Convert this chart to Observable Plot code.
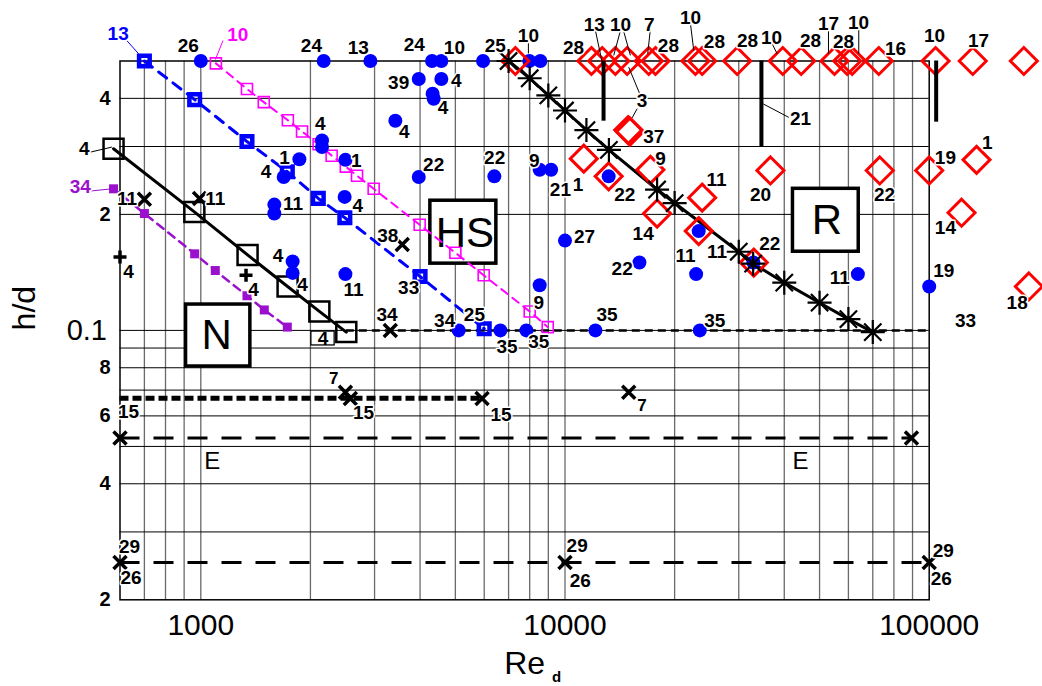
<!DOCTYPE html>
<html><head><meta charset="utf-8">
<script src="https://cdn.jsdelivr.net/npm/d3@7"></script>
<script src="https://cdn.jsdelivr.net/npm/@observablehq/plot@0.6"></script>
<style>body{margin:0;background:#fff;}</style>
</head><body><div id="chart"></div>
<script>
// ---------- data (Re_d, h/d) ----------
const nSquares = [[576,29.6],[960,20.3],[1344,15.7],[1731,13.0],[2116,11.2],[2509,9.9]];
const blueSquares = [[700,50],[962,39.7],[1339,30.9],[1728,25.8],[2102,22.0],[2486,19.6],[4000,13.8],[6000,10.1]];
const magentaSquares = [[1100,49.3],[1339,42.3],[1489,39.1],[1734,35.1],[1897,32.8],[2106,30.4],[2287,28.4],[2501,26.6],[2685,25.2],[2983,23.3],[3990,18.8],[5000,15.9],[5980,13.9],[8000,11.2],[8966,10.2]];
const purpleSquares = [[576,23.3],[700,20.1],[962,15.8],[1096,14.3],[1339,12.3],[1494,11.3],[1728,10.2]];
const stars = [[7000,50],[8000,45.1],[9000,40.7],[10000,37.2],[11450,33.1],[13200,29.4],[17900,23.2],[20000,21.4],[30000,16.0],[32860,14.9],[40000,13.3],[50000,11.8],[60000,10.7],[70000,9.9]];
const blueDots = [
  [1000,50],[2175,50],[2922,50],[4315,50],[4576,50],[5957,50],[7985,50],[8557,50],
  [3967,44.9],[4576,44.9],[4330,41.1],[4360,39.9],[3421,35.0],[2152,31.1],[2152,29.9],
  [1865,27.8],[1689,25.0],[2495,27.7],[2483,22.2],[1592,21.2],[1592,20.1],[1787,15.1],[1787,14.1],
  [2495,14.0],[3967,25.0],[6397,25.1],[8520,26.1],[9160,26.1],[10000,17.1],[16010,15.0],
  [22910,14.0],[23290,18.1],[13180,25.1],[32900,15.0],[63700,14.0],[100000,13.0],[8520,13.1],
  [5106,10],[6646,10],[7834,10],[12120,10],[23450,10]
];
const redDiamonds = [
  [7307,50],[11820,50],[12650,50],[13750,50],[14810,50],[16980,50],[17720,50],[22810,50],[23800,50],
  [29690,50],[39620,50],[44510,50],[54950,50],[59540,50],[61440,50],[72700,50],[104100,50],[131700,50],[181900,50],
  [14910,33.1],[15080,32.8],[11260,27.9],[13180,25.1],[17160,26.1],[17900,20.1],[23800,22.1],[23290,18.1],
  [32990,15.0],[36650,26.0],[73160,26.0],[100000,26.0],[134900,27.7],[122700,20.2],[187800,13.0]
];
const crosses = [[700,21.9],[992,22],[3574,16.7],[3314,10],[2495,6.91],[2574,6.66],[5919,6.66],[14960,6.91],[600,5.26],[89400,5.26],[600,2.5],[10000,2.5],[100000,2.5]];
const pluses = [[600,15.5],[1331,13.9]];
const bars = [[12760,50,34.9],[34620,50,30],[104500,50,34.7]];

// reference lines [from Re, to Re, h/d]
const refShortDash = [[2509,100000,10]];
const refDotted = [[600,5919,6.67]];
const refLongDash = [[600,89400,5.26],[600,100000,2.5]];

// region boxes [Re1, Re2, hd1, hd2], texts
const regionBoxes = [[911,1368,8.06,11.67],[4269,6479,14.9,21.7],[42260,64050,16.0,23.3]];
const regionText = [[1106,9.67,"N"],[5310,17.8,"HS"],[52400,19.3,"R"]];
const smallBox = [[2012,2331,9.14,9.93]];
const eText = [[1075,4.57,"E"],[44290,4.57,"E"]];

// labels [Re, hd, text]
const labels = [
  [924,54.8,"26"],[2012,54.8,"24"],[2707,54.2,"13"],[3858,55.0,"24"],[4969,54.2,"10"],[6438,54.8,"25"],
  [7934,58.2,"10"],[10550,54.2,"28"],[12040,62.0,"13"],[14200,62.2,"10"],[17050,62.2,"7"],[19230,54.8,"28"],
  [22110,64.8,"10"],[25720,56.2,"28"],[31700,56.5,"28"],[36890,57.5,"10"],[47210,56.5,"28"],[52900,62.5,"17"],
  [58160,56.2,"28"],[63940,62.9,"10"],[80810,53.9,"16"],[103400,58.2,"10"],[136600,56.5,"17"],
  [479,29.6,"4"],[2129,34.4,"4"],[1699,28.1,"1"],[1510,25.7,"4"],[2673,27.6,"1"],[2696,21.1,"4"],
  [1793,21.3,"11"],[1629,15.6,"4"],[1904,13.1,"4"],[2628,12.7,"11"],[633,14.2,"4"],[1396,12.7,"4"],
  [627,21.9,"11"],[1096,21.95,"11"],[3622,32.8,"4"],[3493,43.8,"39"],[5032,44.5,"4"],[4627,37.8,"4"],
  [4358,26.8,"22"],[6410,28.1,"22"],[8241,27.6,"9"],[9714,23.1,"21"],[3261,17.6,"38"],[3722,12.9,"33"],
  [3246,11.0,"34"],[4673,10.6,"34"],[5639,11.0,"25"],[6934,9.04,"35"],[8468,9.32,"35"],[8468,11.8,"9"],
  [13050,11.0,"35"],[25770,10.6,"35"],[11310,17.5,"27"],[14350,14.4,"22"],[21420,15.6,"11"],[26160,16.0,"11"],
  [16390,17.8,"14"],[14590,22.4,"22"],[10860,23.8,"1"],[17520,31.7,"37"],[16280,39.5,"3"],[18280,27.9,"9"],
  [26050,24.5,"11"],[36490,16.8,"22"],[34410,22.4,"20"],[44310,35.3,"21"],[75400,22.4,"22"],[56800,13.7,"11"],
  [110800,28.1,"19"],[144300,30.6,"1"],[110800,18.5,"14"],[109700,14.3,"19"],[174400,11.8,"18"],[125800,10.6,"33"],
  [2799,6.10,"15"],[6675,6.05,"15"],[633,6.13,"15"],
  [637,2.75,"29"],[643,2.28,"26"],[10800,2.76,"29"],[11020,2.24,"26"],[109300,2.68,"29"],[107900,2.26,"26"]
];
const smallLabels = [[2316,7.52,"7"],[16280,6.38,"7"]];
const boxedLabel = [[2165,9.51,"4"]];
const blueLabel = [[593,58.9,"13"]];
const magentaLabel = [[1264,58.6,"10"]];
const purpleLabel = [[467,23.5,"34"]];

// leader lines [Re1, hd1, Re2, hd2]
const leadersBlack = [
  [497,29.0,570,29.9],[12120,60.0,12650,49.6],[14200,60.0,13610,51.7],[14470,60.0,15120,51.7],
  [17160,60.6,16870,52.2],[22110,62.4,22570,53.2],[37060,55.4,38240,52.2],[52900,60.6,52900,52.2],
  [64060,60.6,64060,52.2],[7934,55.8,7934,52.3],[16040,41.1,14960,48.2],[15780,37.6,15290,35.6],
  [35000,38.7,41160,35.7]
];
const leadersBlue = [[620,57.1,675,52.2]];
const leadersMagenta = [[1151,56.5,1096,50.4]];
const leadersPurple = [[499,23.0,570,23.3]];

// grid & ticks
const gridX = [700,800,900,1000,2000,3000,4000,5000,6000,7000,8000,9000,10000,20000,30000,40000,50000,60000,70000,80000,90000];
const gridY = [3,4,5,6,7,8,9,10,20,30,40];
const xTicks = [1000,10000,100000];
const yTicksBold = [2,4,6,8,20,40];
const yTicksBoldText = ["2","4","6","8","2","4"];
const yTickSpecial = [10];
const yTickSpecialText = ["0.1"];

// ---------- symbols ----------
const rad = s => Math.sqrt(s / Math.PI);
const sqSym = {draw(c, s){const r = rad(s); c.moveTo(-r,-r); c.lineTo(r,-r); c.lineTo(r,r); c.lineTo(-r,r); c.closePath();}};
const diaSym = {draw(c, s){const r = rad(s); c.moveTo(0,-r); c.lineTo(r,0); c.lineTo(0,r); c.lineTo(-r,0); c.closePath();}};
const xSym = {draw(c, s){const r = rad(s); c.moveTo(-r,-r); c.lineTo(r,r); c.moveTo(r,-r); c.lineTo(-r,r);}};
const plusSym = {draw(c, s){const r = rad(s); c.moveTo(-r,0); c.lineTo(r,0); c.moveTo(0,-r); c.lineTo(0,r);}};
const starSym = {draw(c, s){const r = rad(s), q = r*0.72; c.moveTo(-r,0); c.lineTo(r,0); c.moveTo(0,-r); c.lineTo(0,r); c.moveTo(-q,-q); c.lineTo(q,q); c.moveTo(q,-q); c.lineTo(-q,q);}};

const F = "'Liberation Sans', Arial, Helvetica, sans-serif";
const X = d => d[0], Y = d => d[1];
const BLUE = "#0000ff", MAG = "#ff00ff", RED = "#ff0000", PURP = "#9a10cc";
const lbl = {x: X, y: Y, text: d => d[2], fontWeight: "bold", fontSize: 19, stroke: "white", strokeWidth: 3, fill: "black"};

const chart = Plot.plot({
  width: 1042, height: 686,
  marginLeft: 119.5, marginRight: 113.3, marginTop: 60.5, marginBottom: 86.7,
  style: {fontFamily: F, background: "white", color: "black", overflow: "visible"},
  x: {type: "log", domain: [600, 100000], axis: null},
  y: {type: "log", domain: [2, 50], axis: null},
  marks: [
    Plot.ruleX(gridX, {stroke: "#6a6a6a", strokeWidth: 1.3}),
    Plot.ruleY(gridY, {stroke: "#000", strokeWidth: 1}),
    Plot.frame({stroke: "black", strokeWidth: 1.5}),
    Plot.rect(regionBoxes, {x1: d => d[0], x2: d => d[1], y1: d => d[2], y2: d => d[3], fill: "white", stroke: "black", strokeWidth: 3.5}),
    Plot.text(regionText, {x: X, y: Y, text: d => d[2], fontSize: 42}),
    Plot.ruleY(refShortDash, {x1: d => d[0], x2: d => d[1], y: d => d[2], stroke: "black", strokeWidth: 2.5, strokeDasharray: "8,5"}),
    Plot.ruleY(refDotted, {x1: d => d[0], x2: d => d[1], y: d => d[2], stroke: "black", strokeWidth: 5, strokeDasharray: "9,4"}),
    Plot.ruleY(refLongDash, {x1: d => d[0], x2: d => d[1], y: d => d[2], stroke: "black", strokeWidth: 3, strokeDasharray: "20,14"}),
    Plot.line(nSquares, {x: X, y: Y, stroke: "black", strokeWidth: 3}),
    Plot.line(blueSquares, {x: X, y: Y, stroke: BLUE, strokeWidth: 3, strokeDasharray: "10,8"}),
    Plot.line(magentaSquares, {x: X, y: Y, stroke: MAG, strokeWidth: 2, strokeDasharray: "8,6"}),
    Plot.line(purpleSquares, {x: X, y: Y, stroke: PURP, strokeWidth: 2.5, strokeDasharray: "8,6"}),
    Plot.line(stars, {x: X, y: Y, stroke: "black", strokeWidth: 3}),
    Plot.dot(nSquares, {x: X, y: Y, symbol: sqSym, r: 10, fill: "none", stroke: "black", strokeWidth: 2.5}),
    Plot.dot(blueSquares, {x: X, y: Y, symbol: sqSym, r: 5.3, fill: "none", stroke: BLUE, strokeWidth: 4.5}),
    Plot.dot(magentaSquares, {x: X, y: Y, symbol: sqSym, r: 5.5, fill: "none", stroke: MAG, strokeWidth: 1.6}),
    Plot.dot(purpleSquares, {x: X, y: Y, symbol: sqSym, r: 4.5, fill: PURP, stroke: "none"}),
    Plot.dot(blueDots, {x: X, y: Y, r: 7, fill: BLUE, stroke: "none"}),
    Plot.dot(redDiamonds, {x: X, y: Y, symbol: diaSym, r: 13.5, fill: "none", stroke: RED, strokeWidth: 3}),
    Plot.dot(stars, {x: X, y: Y, symbol: starSym, r: 12, fill: "none", stroke: "black", strokeWidth: 2.2}),
    Plot.dot(crosses, {x: X, y: Y, symbol: xSym, r: 6.5, fill: "none", stroke: "black", strokeWidth: 3.5}),
    Plot.dot(pluses, {x: X, y: Y, symbol: plusSym, r: 6.5, fill: "none", stroke: "black", strokeWidth: 3.5}),
    Plot.ruleX(bars, {x: d => d[0], y1: d => d[1], y2: d => d[2], stroke: "black", strokeWidth: 4}),
    Plot.link(leadersBlack, {x1: d => d[0], y1: d => d[1], x2: d => d[2], y2: d => d[3], stroke: "black", strokeWidth: 1}),
    Plot.link(leadersBlue, {x1: d => d[0], y1: d => d[1], x2: d => d[2], y2: d => d[3], stroke: BLUE, strokeWidth: 1}),
    Plot.link(leadersMagenta, {x1: d => d[0], y1: d => d[1], x2: d => d[2], y2: d => d[3], stroke: MAG, strokeWidth: 1}),
    Plot.link(leadersPurple, {x1: d => d[0], y1: d => d[1], x2: d => d[2], y2: d => d[3], stroke: PURP, strokeWidth: 1}),
    Plot.rect(smallBox, {x1: d => d[0], x2: d => d[1], y1: d => d[2], y2: d => d[3], fill: "white", stroke: "black", strokeWidth: 1.3}),
    Plot.text(labels, lbl),
    Plot.text(smallLabels, {...lbl, fontSize: 17}),
    Plot.text(boxedLabel, {...lbl, stroke: null}),
    Plot.text(blueLabel, {...lbl, fill: BLUE}),
    Plot.text(magentaLabel, {...lbl, fill: MAG}),
    Plot.text(purpleLabel, {...lbl, fill: PURP}),
    Plot.text(eText, {x: X, y: Y, text: d => d[2], fontSize: 24}),
    // axes
    Plot.text(xTicks, {x: d => d, frameAnchor: "bottom", lineAnchor: "middle", dy: 26, text: d => String(d), fontSize: 30}),
    Plot.text(yTicksBold, {y: d => d, frameAnchor: "left", dx: -9.5, textAnchor: "end", text: (d, i) => yTicksBoldText[i], fontSize: 20, fontWeight: "bold"}),
    Plot.text(yTickSpecial, {y: d => d, frameAnchor: "left", dx: -13, textAnchor: "end", text: (d, i) => yTickSpecialText[i], fontSize: 29}),
    Plot.text(["h/d"], {frameAnchor: "left", dx: -95, rotate: -90, text: d => d, fontSize: 32}),
    Plot.text(["Re"], {frameAnchor: "bottom", lineAnchor: "middle", dy: 64, text: d => d, fontSize: 32}),
    Plot.text(["d"], {frameAnchor: "bottom", lineAnchor: "middle", dx: 32, dy: 77, text: d => d, fontSize: 15, fontWeight: "bold"})
  ]
});
document.getElementById("chart").appendChild(chart);
</script>
</body></html>
